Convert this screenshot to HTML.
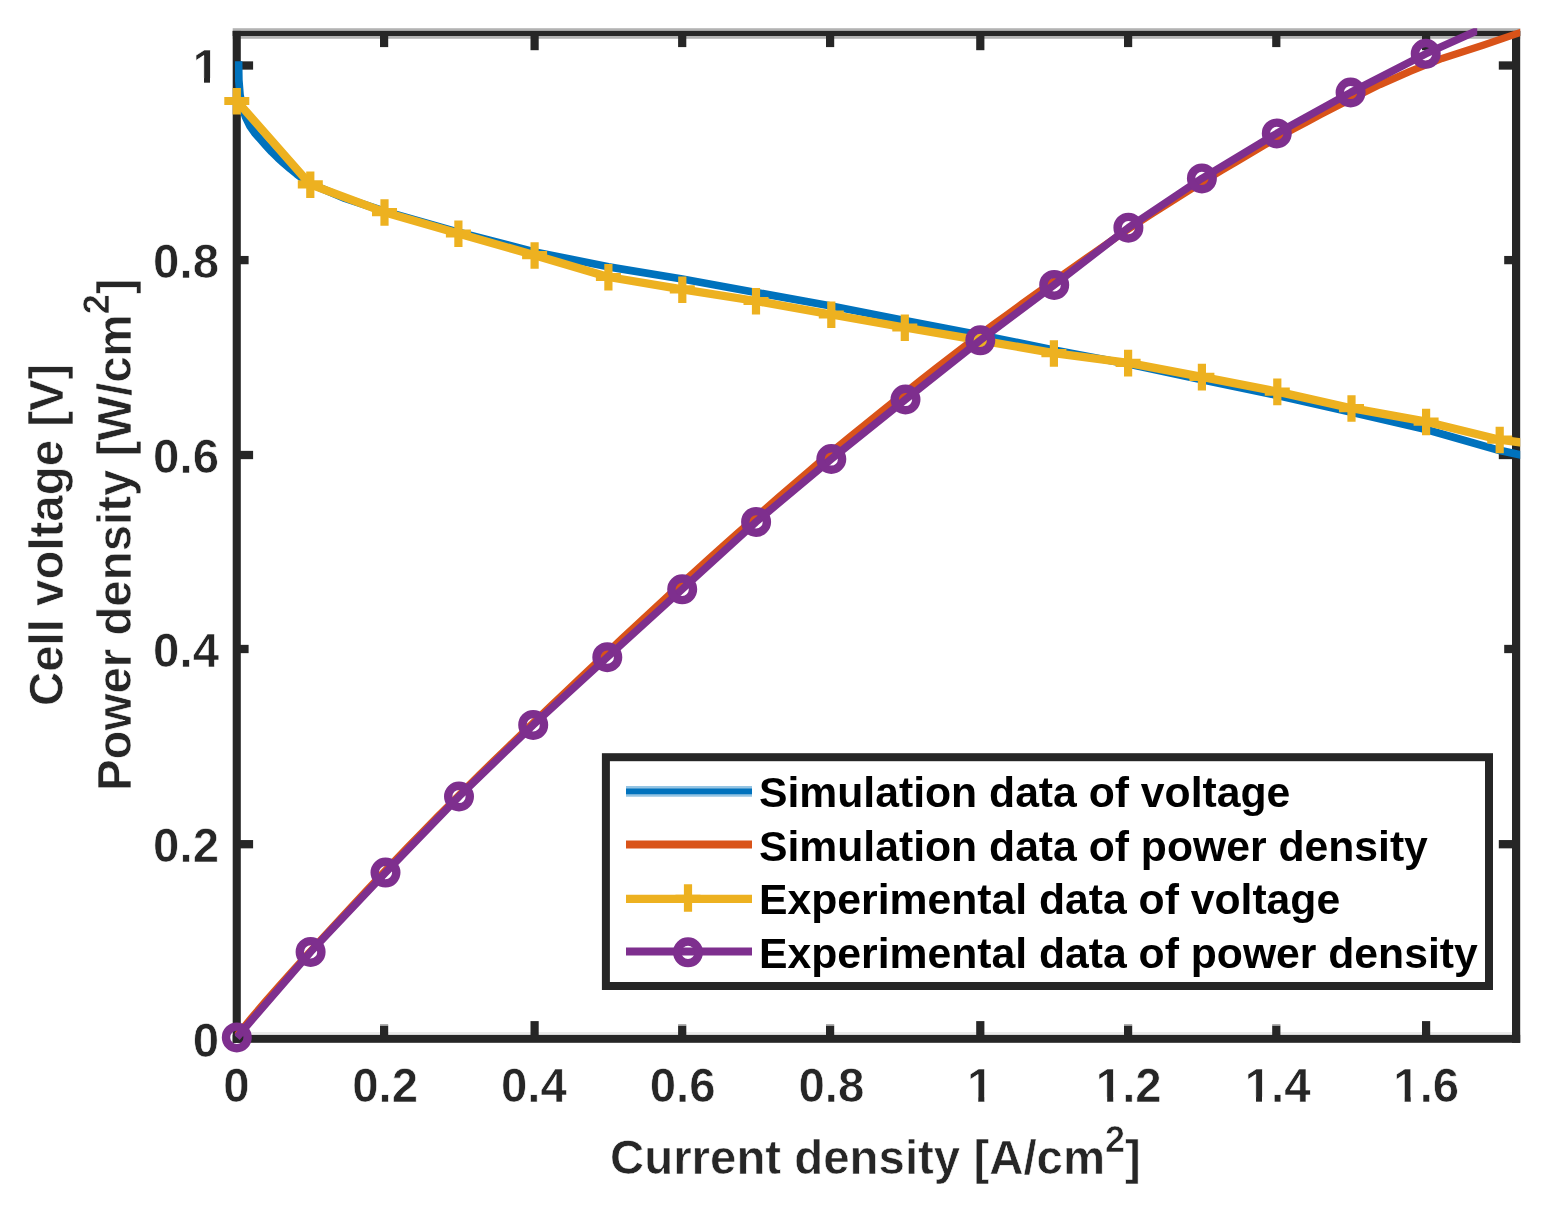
<!DOCTYPE html>
<html lang="en"><head><meta charset="utf-8"><title>Polarization curve: cell voltage and power density vs current density</title>
<style>
html,body{margin:0;padding:0;background:#fff;}
body{width:1550px;height:1214px;overflow:hidden;}
svg{display:block;}
text{font-family:"Liberation Sans",Arial,Helvetica,sans-serif;font-weight:bold;fill:#262626;stroke:#ffffff;stroke-width:0.6px;stroke-linejoin:round;}
.tk{font-size:47.4px;stroke-width:0.25px;}
.lb{font-size:47.4px;}
.lg{font-size:42.7px;fill:#000000;stroke:none;}
.sp{font-size:36px;}
</style></head><body>
<svg width="1550" height="1214" viewBox="0 0 1550 1214" role="img" aria-label="Polarization curve">
<rect x="0" y="0" width="1550" height="1214" fill="#ffffff"/>
<defs><clipPath id="plotclip"><rect x="234.8" y="28.2" width="1285.4" height="1014.6"/></clipPath><clipPath id="purclip"><rect x="234.8" y="28.2" width="1242.4" height="1014.6"/></clipPath><clipPath id="c1_1"><path d="M962.9 1052.2H997.3V1116.2H993.3V1096.9H984.3V1104.2H978.3V1096.9H962.9Z"/></clipPath><clipPath id="c1_2"><path d="M1091.9 1052.2H1165.8V1116.2H1122.3V1096.9H1113.2V1104.2H1107.2V1096.9H1091.9Z"/></clipPath><clipPath id="c1_3"><path d="M1240.6 1052.2H1314.5V1116.2H1271.0V1096.9H1262.0V1104.2H1256.0V1096.9H1240.6Z"/></clipPath><clipPath id="c1_4"><path d="M1389.4 1052.2H1463.3V1116.2H1419.7V1096.9H1410.7V1104.2H1404.7V1096.9H1389.4Z"/></clipPath><clipPath id="c1_5"><path d="M188.6 33.0H223.0V97.0H219.0V77.7H210.0V85.0H204.0V77.7H188.6Z"/></clipPath></defs>
<g id="axes" fill="#262626">
<rect x="232.7" y="28.2" width="1287.5" height="10.6" fill="#b3b3b3"/>
<rect x="232.7" y="30.9" width="1287.5" height="5.1"/>
<rect x="232.7" y="1032.0" width="1287.5" height="3.2" fill="#ebebeb"/>
<rect x="232.7" y="1034.9" width="1287.5" height="7.9"/>
<rect x="232.7" y="30.9" width="8.1" height="1011.9"/>
<rect x="1512.0" y="30.9" width="8.2" height="1011.9"/>
<rect x="380.0" y="1025.8" width="8.2" height="10.2"/>
<rect x="380.0" y="1024.2" width="8.2" height="1.8" fill="#9a9a9a"/>
<rect x="380.0" y="35" width="8.2" height="12.1"/>
<rect x="530.5" y="1021.1" width="8.2" height="14.9"/>
<rect x="530.5" y="35" width="8.2" height="15.2"/>
<rect x="678.1" y="1025.8" width="8.2" height="10.2"/>
<rect x="678.1" y="1024.2" width="8.2" height="1.8" fill="#9a9a9a"/>
<rect x="678.1" y="35" width="8.2" height="12.1"/>
<rect x="826.0" y="1025.8" width="8.2" height="10.2"/>
<rect x="826.0" y="1024.2" width="8.2" height="1.8" fill="#9a9a9a"/>
<rect x="826.0" y="35" width="8.2" height="12.1"/>
<rect x="976.2" y="1021.1" width="8.2" height="14.9"/>
<rect x="976.2" y="35" width="8.2" height="15.2"/>
<rect x="1124.0" y="1025.8" width="8.2" height="10.2"/>
<rect x="1124.0" y="1024.2" width="8.2" height="1.8" fill="#9a9a9a"/>
<rect x="1124.0" y="35" width="8.2" height="12.1"/>
<rect x="1272.2" y="1025.8" width="8.2" height="10.2"/>
<rect x="1272.2" y="1024.2" width="8.2" height="1.8" fill="#9a9a9a"/>
<rect x="1272.2" y="35" width="8.2" height="12.1"/>
<rect x="1422.0" y="1021.1" width="8.2" height="14.9"/>
<rect x="1422.0" y="35" width="8.2" height="15.2"/>
<rect x="240" y="840.05" width="13.1" height="8.3"/>
<rect x="1498.8" y="840.05" width="14.2" height="8.3"/>
<rect x="240" y="644.85" width="8.6" height="8.3"/>
<rect x="1504.2" y="644.85" width="8.8" height="8.3"/>
<rect x="240" y="450.85" width="13.1" height="8.3"/>
<rect x="1498.8" y="450.85" width="14.2" height="8.3"/>
<rect x="240" y="255.95" width="8.6" height="8.3"/>
<rect x="1504.2" y="255.95" width="8.8" height="8.3"/>
<rect x="240" y="61.35" width="13.1" height="8.3"/>
<rect x="1498.8" y="61.35" width="14.2" height="8.3"/>
</g>
<g id="data" fill="none" stroke-width="8.2" stroke-linejoin="round">
<polyline clip-path="url(#plotclip)" stroke="#0072BD" stroke-width="7.8" points="238.5,61.2 238.8,80.0 240.0,95.0 242.3,107.0 245.6,117.0 250.1,126.3 255.2,133.4 260.6,139.5 266.0,145.6 271.7,151.8 277.8,157.8 283.9,163.3 290.3,168.8 296.8,174.1 303.5,179.2 310.3,183.6 345.0,198.3 384.5,211.3 458.4,232.2 534.8,252.0 608.4,266.8 682.3,279.0 756.0,292.5 831.3,306.0 904.8,320.5 980.3,335.0 1053.9,350.0 1128.1,364.0 1201.9,379.6 1277.3,395.4 1351.5,412.2 1426.1,429.4 1499.7,450.4 1530.0,456.8"/>
<polyline clip-path="url(#plotclip)" stroke="#D95319" stroke-width="7.3" points="236.8,1035.8 251.1,1018.4 265.3,1001.6 279.6,985.3 293.9,969.4 308.2,953.8 322.4,938.1 336.7,922.6 351.0,907.2 365.2,891.9 379.5,876.8 393.8,861.8 408.1,846.9 422.3,832.2 436.6,817.6 450.9,803.2 465.1,789.0 479.4,774.8 493.7,760.9 508.0,747.0 522.2,733.3 536.5,719.7 550.8,706.0 565.1,692.3 579.3,678.8 593.6,665.3 607.9,652.0 622.1,638.5 636.4,625.1 650.7,611.8 665.0,598.6 679.2,585.5 693.5,572.6 707.8,559.7 722.0,547.0 736.3,534.3 750.6,521.7 764.9,509.2 779.1,496.8 793.4,484.4 807.7,472.2 821.9,460.1 836.2,448.1 850.5,436.4 864.8,424.8 879.0,413.3 893.3,401.9 907.6,390.6 921.8,379.3 936.1,368.2 950.4,357.1 964.7,346.2 978.9,335.4 993.2,324.8 1007.5,314.4 1021.7,304.0 1036.0,293.8 1050.3,283.7 1064.6,273.5 1078.8,263.4 1093.1,253.4 1107.4,243.4 1121.7,233.6 1135.9,224.1 1150.2,214.9 1164.5,205.8 1178.7,196.8 1193.0,188.0 1207.3,179.2 1221.6,170.5 1235.8,162.0 1250.1,153.5 1264.4,145.2 1278.6,137.0 1292.9,129.3 1307.2,121.7 1321.5,114.1 1335.7,106.8 1350.0,99.5 1380.0,84.6 1410.0,71.4 1442.0,58.4 1483.0,45.3 1520.0,32.6 1531.0,28.8"/>
<polyline clip-path="url(#plotclip)" stroke="#EDB120" stroke-width="8.3" points="236.8,101.0 310.3,184.4 384.5,212.2 458.4,233.5 534.6,255.2 608.4,277.0 682.3,289.4 756.0,301.0 831.3,314.5 904.8,327.5 980.3,340.3 1053.9,353.2 1128.1,362.8 1201.9,376.8 1277.3,391.6 1351.5,408.2 1426.1,421.7 1499.7,439.7 1530.0,443.6"/>
<path stroke="#EDB120" d="M224.3 101.0h25.0M236.8 88.0v26.6M297.8 184.4h25.0M310.3 171.4v26.6M372.0 212.2h25.0M384.5 199.2v26.6M445.9 233.5h25.0M458.4 220.5v26.6M522.1 255.2h25.0M534.6 242.2v26.6M595.9 277.0h25.0M608.4 264.0v26.6M669.8 289.4h25.0M682.3 276.4v26.6M743.5 301.0h25.0M756.0 288.0v26.6M818.8 314.5h25.0M831.3 301.5v26.6M892.3 327.5h25.0M904.8 314.5v26.6M967.8 340.3h25.0M980.3 327.3v26.6M1041.4 353.2h25.0M1053.9 340.2v26.6M1115.6 362.8h25.0M1128.1 349.8v26.6M1189.4 376.8h25.0M1201.9 363.8v26.6M1264.8 391.6h25.0M1277.3 378.6v26.6M1339.0 408.2h25.0M1351.5 395.2v26.6M1413.6 421.7h25.0M1426.1 408.7v26.6M1487.2 439.7h25.0M1499.7 426.7v26.6"/>
<polyline clip-path="url(#purclip)" stroke="#7E2F8E" stroke-width="7.6" points="236.8,1037.4 310.6,951.9 385.5,872.6 459.0,796.5 533.2,724.9 607.3,657.2 682.2,589.3 756.1,521.9 831.3,459.0 905.5,399.5 980.3,340.3 1054.2,284.9 1128.4,227.7 1201.9,178.4 1276.8,133.4 1350.6,92.5 1425.7,53.8 1500.2,20.2"/>
<circle stroke="#7E2F8E" cx="236.8" cy="1037.4" r="10.8" stroke-width="8.4"/>
<circle stroke="#7E2F8E" cx="310.6" cy="951.9" r="10.8" stroke-width="8.4"/>
<circle stroke="#7E2F8E" cx="385.5" cy="872.6" r="10.8" stroke-width="8.4"/>
<circle stroke="#7E2F8E" cx="459.0" cy="796.5" r="10.8" stroke-width="8.4"/>
<circle stroke="#7E2F8E" cx="533.2" cy="724.9" r="10.8" stroke-width="8.4"/>
<circle stroke="#7E2F8E" cx="607.3" cy="657.2" r="10.8" stroke-width="8.4"/>
<circle stroke="#7E2F8E" cx="682.2" cy="589.3" r="10.8" stroke-width="8.4"/>
<circle stroke="#7E2F8E" cx="756.1" cy="521.9" r="10.8" stroke-width="8.4"/>
<circle stroke="#7E2F8E" cx="831.3" cy="459.0" r="10.8" stroke-width="8.4"/>
<circle stroke="#7E2F8E" cx="905.5" cy="399.5" r="10.8" stroke-width="8.4"/>
<circle stroke="#7E2F8E" cx="980.3" cy="340.3" r="10.8" stroke-width="8.4"/>
<circle stroke="#7E2F8E" cx="1054.2" cy="284.9" r="10.8" stroke-width="8.4"/>
<circle stroke="#7E2F8E" cx="1128.4" cy="227.7" r="10.8" stroke-width="8.4"/>
<circle stroke="#7E2F8E" cx="1201.9" cy="178.4" r="10.8" stroke-width="8.4"/>
<circle stroke="#7E2F8E" cx="1276.8" cy="133.4" r="10.8" stroke-width="8.4"/>
<circle stroke="#7E2F8E" cx="1350.6" cy="92.5" r="10.8" stroke-width="8.4"/>
<circle stroke="#7E2F8E" cx="1425.7" cy="53.8" r="10.8" stroke-width="8.4"/>
</g>
<g id="xticklabels" class="tk" text-anchor="middle">
<text x="236.4" y="1102.2">0</text>
<text x="385.1" y="1102.2">0.2</text>
<text x="533.9" y="1102.2">0.4</text>
<text x="682.6" y="1102.2">0.6</text>
<text x="831.4" y="1102.2">0.8</text>
<text x="980.1" y="1102.2" clip-path="url(#c1_1)">1</text>
<text x="1128.8" y="1102.2" clip-path="url(#c1_2)">1.2</text>
<text x="1277.6" y="1102.2" clip-path="url(#c1_3)">1.4</text>
<text x="1426.3" y="1102.2" clip-path="url(#c1_4)">1.6</text>
</g>
<g id="yticklabels" class="tk" text-anchor="end">
<text x="219.0" y="1056.5">0</text>
<text x="219.0" y="861.7">0.2</text>
<text x="219.0" y="666.5">0.4</text>
<text x="219.0" y="472.5">0.6</text>
<text x="219.0" y="277.6">0.8</text>
<text x="219.0" y="83.0" clip-path="url(#c1_5)">1</text>
</g>
<text class="lb" x="610" y="1174.2">Current density [A/cm<tspan class="sp" dy="-22.5">2</tspan><tspan dy="22.5">]</tspan></text>
<text class="lb" transform="translate(62.8,706) rotate(-90)">Cell voltage [V]</text>
<text class="lb" transform="translate(131.1,791) rotate(-90)">Power density [W/cm<tspan class="sp" dy="-22.5">2</tspan><tspan dy="22.5">]</tspan></text>
<g id="legend">
<rect x="605.9" y="757.2" width="883.1" height="228.8" fill="#ffffff" stroke="#262626" stroke-width="8"/>
<line x1="626" y1="791.4" x2="752" y2="791.4" stroke="#0072BD" stroke-width="10.8" stroke-opacity="0.42"/>
<line x1="626" y1="791.4" x2="752" y2="791.4" stroke="#0072BD" stroke-width="5.8"/>
<text class="lg" x="759" y="807.2">Simulation data of voltage</text>
<line x1="626" y1="844.5" x2="752" y2="844.5" stroke="#D95319" stroke-width="8.2"/>
<text class="lg" x="759" y="861.2">Simulation data of power density</text>
<line x1="626" y1="898.9" x2="752" y2="898.9" stroke="#EDB120" stroke-width="8.2"/>
<path d="M675.5 898.9h25.0M688 884.3v27.4" stroke="#EDB120" stroke-width="8.2" fill="none"/>
<text class="lg" x="759" y="914.1">Experimental data of voltage</text>
<line x1="626" y1="951.5" x2="752" y2="951.5" stroke="#7E2F8E" stroke-width="8.2"/>
<circle cx="688" cy="952.3" r="10.8" stroke="#7E2F8E" stroke-width="8.4" fill="none"/>
<text class="lg" x="759" y="968.3">Experimental data of power density</text>
</g>
</svg></body></html>
